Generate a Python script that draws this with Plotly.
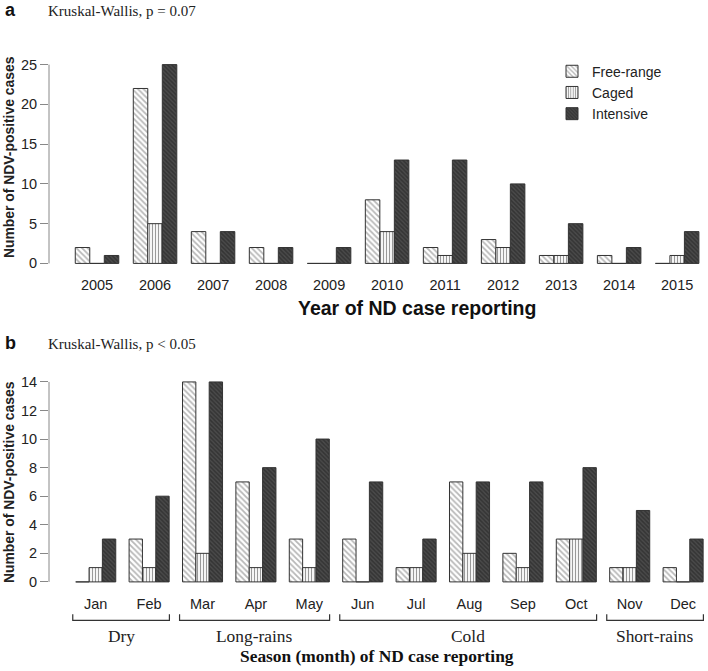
import plotly.graph_objects as go

W, H = 708, 671

# ---------------- data ----------------
years = ["2005", "2006", "2007", "2008", "2009", "2010", "2011", "2012", "2013", "2014", "2015"]
year_free = [2, 22, 4, 2, 0, 8, 2, 3, 1, 1, 0]
year_caged = [0, 5, 0, 0, 0, 4, 1, 2, 1, 0, 1]
year_intensive = [1, 25, 4, 2, 2, 13, 13, 10, 5, 2, 4]

months = ["Jan", "Feb", "Mar", "Apr", "May", "Jun", "Jul", "Aug", "Sep", "Oct", "Nov", "Dec"]
month_free = [0, 3, 14, 7, 3, 3, 1, 7, 2, 3, 1, 1]
month_caged = [1, 1, 2, 1, 1, 0, 1, 2, 1, 3, 1, 0]
month_intensive = [3, 6, 14, 8, 10, 7, 3, 7, 7, 8, 5, 3]

seasons = ["Dry", "Long-rains", "Cold", "Short-rains"]
season_first = [0, 2, 5, 10]   # index of first month
season_last = [1, 4, 9, 11]    # index of last month

series_names = ["Free-range", "Caged", "Intensive"]
ticks_a = [0, 5, 10, 15, 20, 25]
ticks_b = [0, 2, 4, 6, 8, 10, 12, 14]


def fx(px):
    return px / W


def fy(py):
    return 1 - py / H


styles = [
    dict(shape="\\", bgcolor="#ffffff", fgcolor="#707070", size=4, solidity=0.45),
    dict(shape="|", bgcolor="#ffffff", fgcolor="#333333", size=3, solidity=0.4),
    dict(shape="\\", bgcolor="#4a4a4a", fgcolor="#1e1e1e", size=3, solidity=0.5),
]

fig = go.Figure()

for i, (name, vals) in enumerate(zip(series_names, [year_free, year_caged, year_intensive])):
    fig.add_trace(go.Bar(
        x=years, y=vals, name=name, xaxis="x", yaxis="y",
        marker=dict(color=styles[i]["bgcolor"], pattern=styles[i],
                    line=dict(color="#333333", width=1)),
        showlegend=True,
    ))

for i, (name, vals) in enumerate(zip(series_names, [month_free, month_caged, month_intensive])):
    fig.add_trace(go.Bar(
        x=months, y=vals, name=name, xaxis="x2", yaxis="y2",
        marker=dict(color=styles[i]["bgcolor"], pattern=styles[i],
                    line=dict(color="#333333", width=1)),
        showlegend=False,
    ))

sans = "Liberation Sans, Arial, sans-serif"
serif = "Liberation Serif, Times New Roman, serif"
tickfont = dict(family=sans, size=14.5, color="#222222")

a_bottom, a_top = 269.8, 57.0
b_bottom, b_top = 589.7, 375.6

fig.update_layout(
    width=W, height=H,
    margin=dict(l=0, r=0, t=0, b=0),
    paper_bgcolor="white", plot_bgcolor="white",
    barmode="group", bargap=0.25, bargroupgap=0,
    showlegend=True,
    legend=dict(x=fx(552), y=fy(56), xanchor="left", yanchor="top",
                font=dict(family=sans, size=14, color="#222222"),
                bgcolor="rgba(0,0,0,0)", tracegroupgap=0, itemwidth=30),
    xaxis=dict(domain=[fx(49), fx(705)], range=[-0.828, 10.48], anchor="y",
               showline=False, ticks="", showgrid=False, zeroline=False,
               tickfont=tickfont, ticklabelstandoff=6),
    yaxis=dict(domain=[fy(a_bottom), fy(a_top)], range=[-0.6, 26], anchor="x",
               showline=False, ticks="outside", ticklen=8, tickcolor="#888888",
               tickvals=ticks_a, showgrid=False, zeroline=False,
               tickfont=tickfont),
    xaxis2=dict(domain=[fx(49), fx(705)], range=[-0.875, 11.41], anchor="y2",
                showline=False, ticks="", showgrid=False, zeroline=False,
                tickfont=tickfont, ticklabelstandoff=7),
    yaxis2=dict(domain=[fy(b_bottom), fy(b_top)], range=[-0.3, 14.6], anchor="x2",
                showline=False, ticks="outside", ticklen=8, tickcolor="#888888",
                tickvals=ticks_b, showgrid=False, zeroline=False,
                tickfont=tickfont),
)

shapes = []
shapes.append(dict(type="line", xref="x domain", yref="y", x0=0, x1=0,
                   y0=ticks_a[0], y1=ticks_a[-1],
                   line=dict(color="#888888", width=1)))
shapes.append(dict(type="line", xref="x2 domain", yref="y2", x0=0, x1=0,
                   y0=ticks_b[0], y1=ticks_b[-1],
                   line=dict(color="#888888", width=1)))

br_y, br_tick = 624, 6
annotations = []
for name, s0, s1 in zip(seasons, season_first, season_last):
    x0 = s0 - 0.43
    x1 = s1 + 0.38
    shapes.append(dict(type="path", xref="x2", yref="paper",
                       path=f"M {x0},{fy(br_y - br_tick)} L {x0},{fy(br_y)} L {x1},{fy(br_y)} L {x1},{fy(br_y - br_tick)}",
                       line=dict(color="#333333", width=1.2)))
    annotations.append(dict(x=(x0 + x1) / 2, y=fy(640), xref="x2", yref="paper",
                            text=name, showarrow=False, xanchor="center", yanchor="middle",
                            font=dict(family=serif, size=17.4, color="#222222")))

annotations += [
    dict(x=fx(3), y=fy(10), xref="paper", yref="paper", text="<b>a</b>", showarrow=False,
         xanchor="left", yanchor="middle", font=dict(family=sans, size=18, color="#111111")),
    dict(x=fx(46), y=fy(11), xref="paper", yref="paper", text="Kruskal-Wallis, p = 0.07",
         showarrow=False, xanchor="left", yanchor="middle",
         font=dict(family=serif, size=15, color="#222222")),
    dict(x=fx(3), y=fy(345), xref="paper", yref="paper", text="<b>b</b>", showarrow=False,
         xanchor="left", yanchor="middle", font=dict(family=sans, size=18, color="#111111")),
    dict(x=fx(46), y=fy(346), xref="paper", yref="paper", text="Kruskal-Wallis, p < 0.05",
         showarrow=False, xanchor="left", yanchor="middle",
         font=dict(family=serif, size=15, color="#222222")),
    dict(x=fx(9), y=fy(158), xref="paper", yref="paper", text="<b>Number of NDV-positive cases</b>",
         showarrow=False, textangle=-90, xanchor="center", yanchor="middle",
         font=dict(family=sans, size=13.9, color="#222222")),
    dict(x=fx(9), y=fy(485), xref="paper", yref="paper", text="<b>Number of NDV-positive cases</b>",
         showarrow=False, textangle=-90, xanchor="center", yanchor="middle",
         font=dict(family=sans, size=13.9, color="#222222")),
    dict(x=fx(417), y=fy(310), xref="paper", yref="paper", text="<b>Year of ND case reporting</b>",
         showarrow=False, xanchor="center", yanchor="middle",
         font=dict(family=sans, size=19.5, color="#111111")),
    dict(x=fx(377), y=fy(660), xref="paper", yref="paper", text="<b>Season (month) of ND case reporting</b>",
         showarrow=False, xanchor="center", yanchor="middle",
         font=dict(family=serif, size=17.4, color="#111111")),
]

fig.update_layout(shapes=shapes, annotations=annotations)
fig.write_html("out.html", config={"displayModeBar": False},
               post_script="document.body.style.margin='0';document.body.style.overflow='hidden';")
